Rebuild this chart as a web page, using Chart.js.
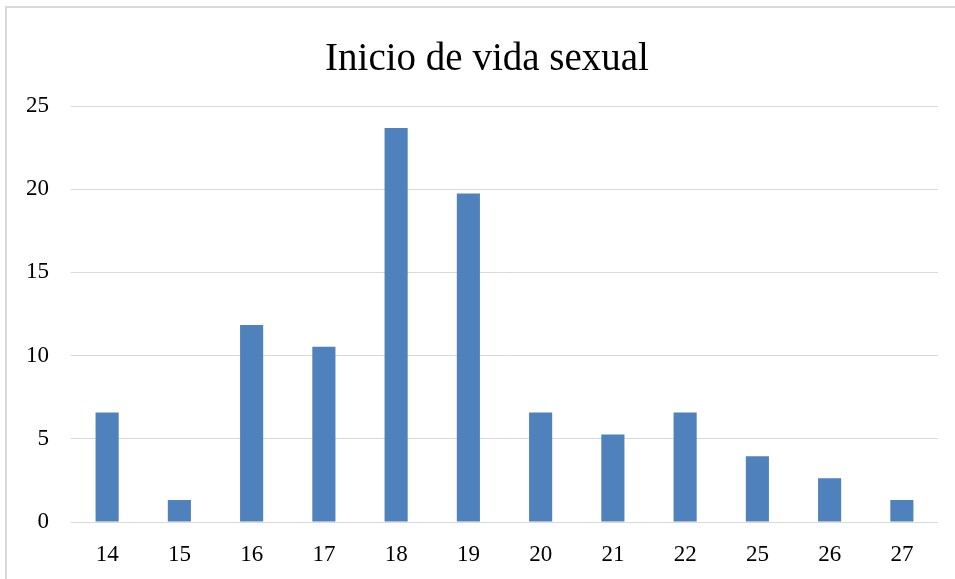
<!DOCTYPE html>
<html>
<head>
<meta charset="utf-8">
<script src="https://cdn.jsdelivr.net/npm/chart.js@4/dist/chart.umd.min.js"></script>
<style>
  html, body { margin: 0; padding: 0; background: #fff; overflow: hidden; }
  canvas { display: block; }
</style>
</head>
<body>
<canvas id="edad-chart" width="955" height="579"></canvas>
<script>
const titulo = "Inicio de vida sexual";
const edades = ["14", "15", "16", "17", "18", "19", "20", "21", "22", "25", "26", "27"];
const porcentajes = [6.58, 1.32, 11.84, 10.53, 23.68, 19.74, 6.58, 5.26, 6.58, 3.95, 2.63, 1.32];
const azul = "#4F81BD";
const gris = "#D9D9D9";
const serif = "'Liberation Serif', 'DejaVu Serif', serif";

// marco gris y titulo centrado en el marco (el marco sigue fuera de la imagen a la derecha)
const marco = {
   id: "marco",
   afterDraw(chart) {
      const ctx = chart.ctx;
      ctx.save();
      ctx.strokeStyle = gris;
      ctx.lineWidth = 2;
      ctx.beginPath();
      ctx.moveTo(6, 579);
      ctx.lineTo(6, 7);
      ctx.lineTo(955, 7);
      ctx.stroke();
      ctx.fillStyle = "#000";
      ctx.font = "39px " + serif;
      ctx.textAlign = "center";
      ctx.textBaseline = "alphabetic";
      ctx.fillText(titulo, 487, 70);
      ctx.restore();
   }
};

let edadChart = new Chart("edad-chart", {
   type: "bar",
   data: {
      labels: edades,
      datasets: [
         {
            data: porcentajes,
            backgroundColor: azul,
            barPercentage: 0.32,
            categoryPercentage: 1
         }
      ]
   },
   options: {
      responsive: false,
      animation: false,
      layout: {
         padding: { left: 0, right: 17, top: 106, bottom: 0 }
      },
      plugins: {
         legend: { display: false },
         tooltip: { enabled: false },
         title: { display: false }
      },
      scales: {
         x: {
            grid: { display: false, drawTicks: false },
            border: { display: false },
            ticks: {
               color: "#000",
               padding: 19,
               font: { family: serif, size: 23 }
            },
            afterFit(scale) { scale.height = 57; }
         },
         y: {
            min: 0,
            max: 25,
            grid: { color: gris, lineWidth: 1, drawTicks: false },
            border: { display: false },
            ticks: {
               stepSize: 5,
               color: "#000",
               padding: 22,
               font: { family: serif, size: 23 }
            },
            afterFit(scale) { scale.width = 71; }
         }
      }
   },
   plugins: [marco]
});
</script>
</body>
</html>
